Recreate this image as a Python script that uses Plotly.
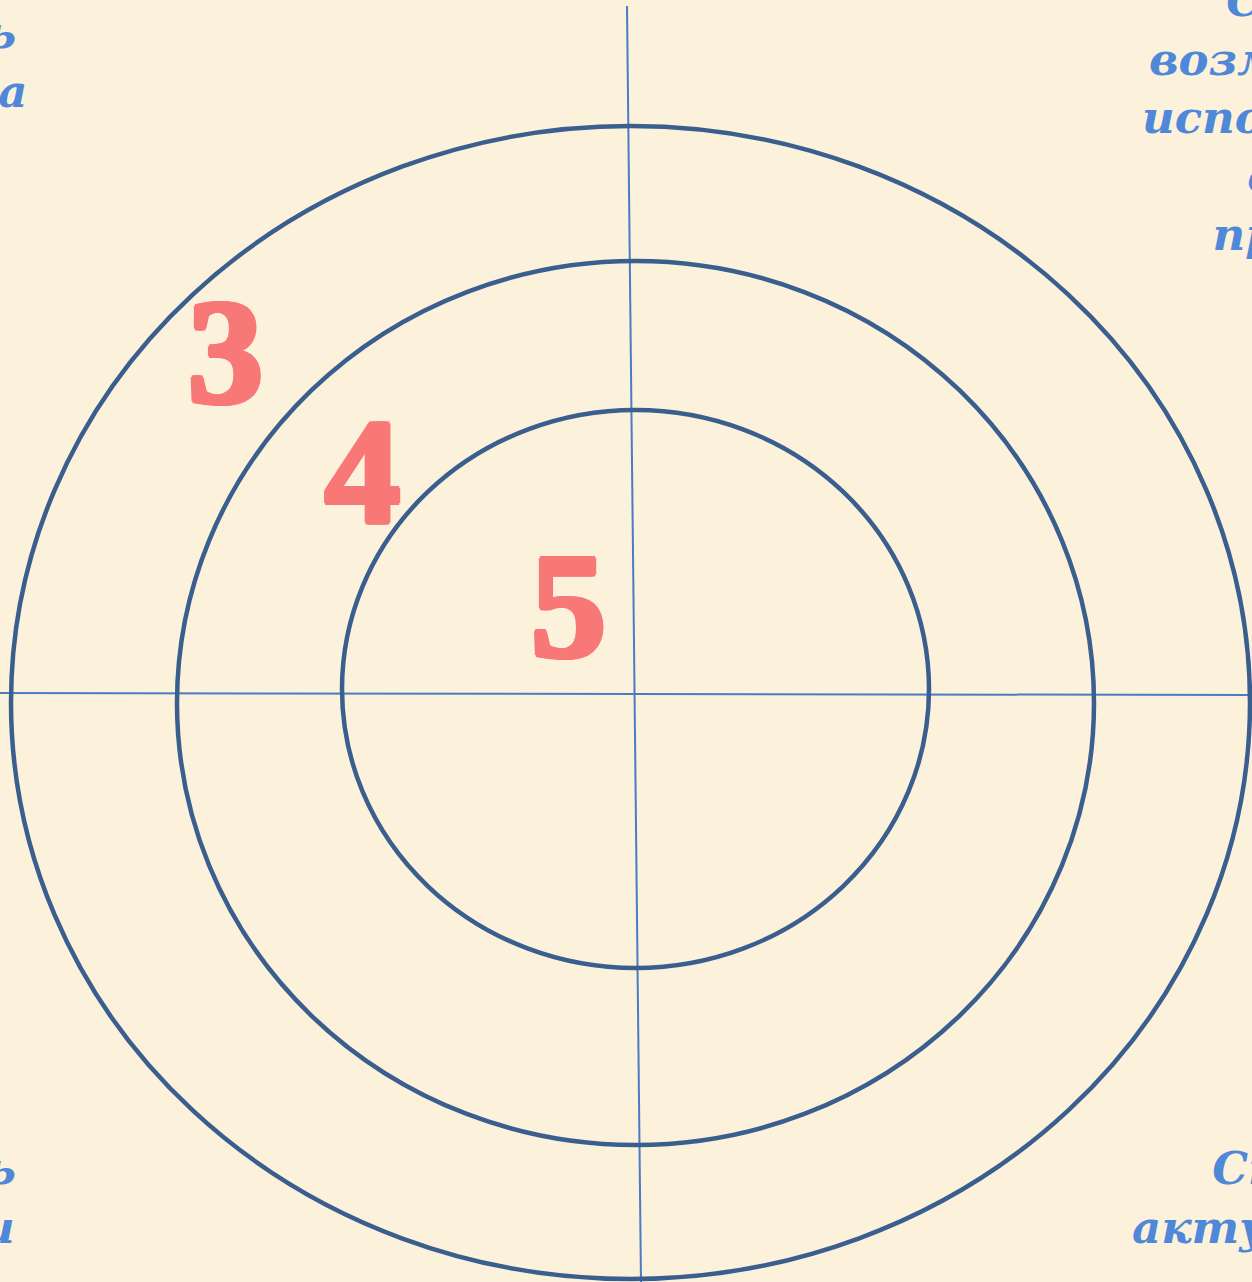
import plotly.graph_objects as go

W, H = 1252, 1282

# Target rings (outer -> inner), in pixel-like data units
ring_names = ["3", "4", "5"]
ring_x0 = [11, 177, 342]
ring_x1 = [1250, 1094, 929]
ring_y0 = [126, 261, 410]
ring_y1 = [1279, 1145, 968]

# Score labels and their positions
label_text = ["3", "4", "5"]
label_x = [225, 362, 568]
label_y = [352, 472, 606]

# Cross lines (vertical, horizontal)
cross_x0 = [627, 0]
cross_y0 = [6, 693]
cross_x1 = [641, W]
cross_y1 = [1282, 695]

# Corner captions (partially out of view)
corner_text = [
    "Степень<br>интереса",
    "Степень<br>возможности<br>использования<br>в своей<br>практике",
    "Степень<br>ясности",
    "Степень<br>актуальности",
]
corner_x = [-102, 1344, -102, 1330]
corner_y = [62, 118, 1198, 1198]

RING_COLOR = "#3A5E8E"
CROSS_COLOR = "#4A7BC4"
NUM_COLOR = "#F87878"
TEXT_COLOR = "#4F88D8"
BG = "#FCF1DB"

# thicken the digits with a same-colour text shadow
offs = [(-3, 0), (3, 0), (0, -2), (0, 2), (-2, -2), (2, 2), (-2, 2), (2, -2)]
NUM_SHADOW = ", ".join(f"{dx}px {dy}px 0px {NUM_COLOR}" for dx, dy in offs)

fig = go.Figure()
fig.add_trace(go.Scatter(x=[0, W], y=[0, H], mode="markers",
                         marker=dict(opacity=0), hoverinfo="skip", showlegend=False))

shapes = []
for x0, y0, x1, y1 in zip(cross_x0, cross_y0, cross_x1, cross_y1):
    shapes.append(dict(type="line", xref="x", yref="y", x0=x0, y0=y0, x1=x1, y1=y1,
                       line=dict(color=CROSS_COLOR, width=2), layer="below"))
for x0, x1, y0, y1 in zip(ring_x0, ring_x1, ring_y0, ring_y1):
    shapes.append(dict(type="circle", xref="x", yref="y", x0=x0, x1=x1, y0=y0, y1=y1,
                       line=dict(color=RING_COLOR, width=4.5), fillcolor="rgba(0,0,0,0)"))

annotations = []
for t, x, y in zip(label_text, label_x, label_y):
    annotations.append(dict(text=t, x=x, y=y, xref="x", yref="y",
                            showarrow=False, xanchor="center", yanchor="middle",
                            font=dict(family="Liberation Serif", size=150, color=NUM_COLOR,
                                      weight=700, shadow=NUM_SHADOW)))
for t, x, y in zip(corner_text, corner_x, corner_y):
    annotations.append(dict(text=f"<i>{t}</i>", x=x / W, y=1 - y / H,
                            xref="paper", yref="paper", showarrow=False,
                            xanchor="center", yanchor="middle", align="center",
                            font=dict(family="DejaVu Serif", size=45, color=TEXT_COLOR,
                                      weight=700)))

fig.update_layout(
    width=W, height=H,
    margin=dict(l=0, r=0, t=0, b=0),
    paper_bgcolor=BG, plot_bgcolor=BG,
    xaxis=dict(range=[0, W], visible=False, fixedrange=True),
    yaxis=dict(range=[H, 0], visible=False, fixedrange=True),
    shapes=shapes, annotations=annotations,
    showlegend=False,
)

fig.write_html("out.html", config={"displayModeBar": False},
               post_script="document.body.style.margin='0';document.body.style.overflow='hidden';")
